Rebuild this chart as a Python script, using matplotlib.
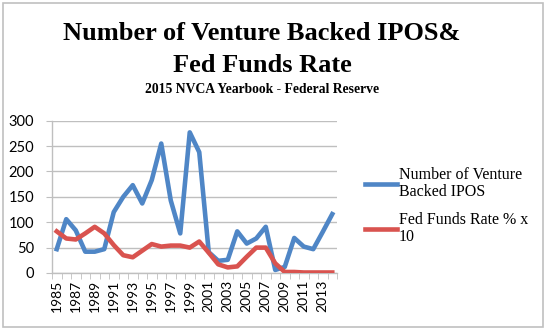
import matplotlib.pyplot as plt
from matplotlib.patches import Rectangle

# yearly data: venture backed IPO counts and fed funds rate (scaled x10)
years = list(range(1985, 2015))
ipos = [47, 106, 84, 42, 42, 47, 120, 150, 173, 137, 183, 255, 143, 78, 277,
        238, 41, 24, 26, 82, 58, 68, 91, 6, 12, 69, 52, 47, 81, 116]
fed_rate_x10 = [82, 68, 66, 78, 91, 78, 55, 35, 31, 44, 57, 52, 54, 54, 50,
                62, 40, 17, 11, 13, 32, 50, 50, 19, 2, 2, 1, 1, 1, 1]

ipo_label = "Number of Venture\nBacked IPOS"
fed_label = "Fed Funds Rate % x\n10"

blue = "#4f86c6"
red = "#d9534f"
grid_gray = "#bfbfbf"

W, H = 546, 331
fig = plt.figure(figsize=(W / 100, H / 100), dpi=100)

# outer chart frame
fig.patches.append(Rectangle((3 / W, 4 / H), 540 / W, 324 / H, transform=fig.transFigure,
                             fill=False, edgecolor="#c0c0c0", linewidth=1.2))

ax = fig.add_axes([52 / W, (H - 273) / H, 285 / W, 152.3 / H])

x = list(range(len(years)))
ax.plot(x, ipos, color=blue, linewidth=3.3, solid_joinstyle="round", label=ipo_label, zorder=3)
ax.plot(x, fed_rate_x10, color=red, linewidth=3.3, solid_joinstyle="round", label=fed_label, zorder=3)

ax.set_xlim(-0.5, len(years) - 0.5)
ax.set_ylim(0, 300)
ax.set_yticks(range(0, 301, 50))
ax.yaxis.grid(True, color=grid_gray, linewidth=1.0)
ax.set_axisbelow(True)

# labels on every other year, tick marks on category edges
ax.set_xticks(x[::2])
ax.set_xticklabels([str(y) for y in years[::2]], rotation=90, fontfamily="Lato", fontsize=10)
ax.set_xticks([i - 0.5 for i in range(len(years) + 1)], minor=True)
ax.tick_params(axis="x", which="major", length=0, pad=5)
ax.tick_params(axis="x", which="minor", length=4, color=grid_gray, direction="out")
ax.tick_params(axis="y", length=4, color=grid_gray, direction="out", pad=9)
for lab in ax.get_yticklabels():
    lab.set_fontfamily("Lato")
    lab.set_fontsize(10.5)

for side in ("top", "right"):
    ax.spines[side].set_visible(False)
for side in ("left", "bottom"):
    ax.spines[side].set_color(grid_gray)
    ax.spines[side].set_linewidth(1.0)

fig.text(262 / W, 1 - 33 / H, "Number of Venture Backed IPOS&", ha="center", va="center",
         fontfamily="Liberation Serif", fontweight="bold", fontsize=19)
fig.text(262 / W, 1 - 66 / H, "Fed Funds Rate", ha="center", va="center",
         fontfamily="Liberation Serif", fontweight="bold", fontsize=19)
fig.text(262 / W, 1 - 90 / H, "2015 NVCA Yearbook - Federal Reserve", ha="center", va="center",
         fontfamily="Liberation Serif", fontweight="bold", fontsize=9.8)

leg = ax.legend(loc="center left", bbox_to_anchor=(351 / W, 1 - 206 / H),
                bbox_transform=fig.transFigure, frameon=False,
                prop={"family": "Liberation Serif", "size": 11.5},
                handlelength=2.0, handletextpad=0.1, labelspacing=0.75)
for t in leg.get_texts():
    t.set_linespacing(1.1)

fig.savefig("out.png", dpi=100)
